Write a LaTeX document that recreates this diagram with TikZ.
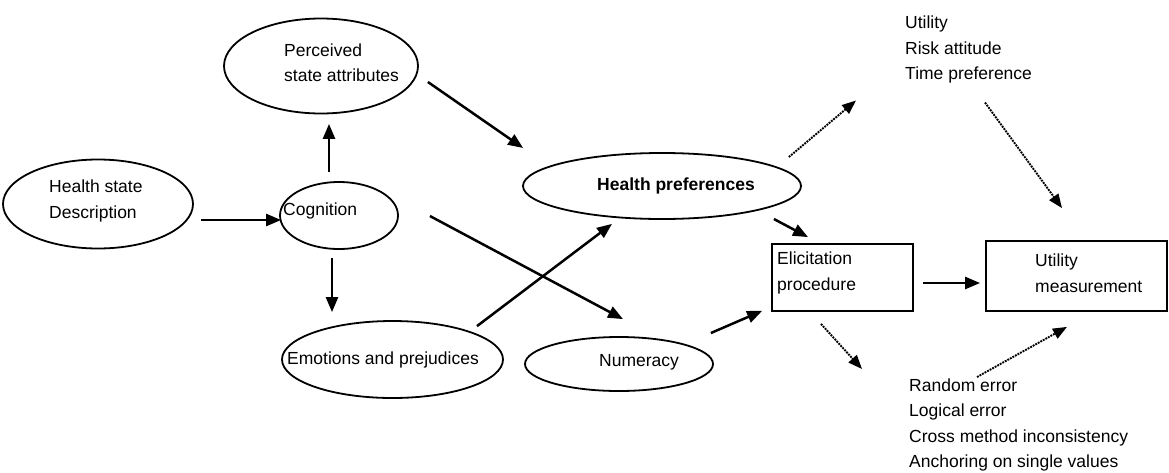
\documentclass[tikz,border=0pt]{standalone}
\usepackage{fontspec}
\setmainfont{Liberation Sans}
\usetikzlibrary{arrows.meta,shapes.geometric}

\begin{document}
\begin{tikzpicture}[
    x=1pt,y=-1pt,
    blob/.style={
      ellipse,draw,line width=1.8pt,inner sep=0pt
    },
    frame/.style={
      rectangle,draw,line width=1.8pt,inner sep=0pt
    },
    lbl/.style={
      anchor=west,align=left,inner sep=0pt,
      font=\fontsize{17.5}{25.5}\selectfont
    },
    arr/.style={
      line width=2.5pt,-{Triangle[length=15pt,width=12pt]}
    },
    dotarr/.style={
      line width=1.9pt,densely dotted,-{Triangle[length=14pt,width=11pt]}
    }]

      \useasboundingbox (0,0) rectangle (1169,472);

      % shapes
      \node[blob,minimum width=190pt,minimum height=89pt] (hsd) at (98,204) {};
      \node[blob,minimum width=194pt,minimum height=95pt] (psa) at (321,66) {};
      \node[blob,minimum width=118pt,minimum height=67pt] (cog) at (339,215.5) {};
      \node[blob,minimum width=221pt,minimum height=77pt] (emo) at (392.5,359.5) {};
      \node[blob,minimum width=188pt,minimum height=54pt] (num) at (619,364) {};
      \node[blob,minimum width=278pt,minimum height=66pt] (hp) at (662,186) {};
      \node[frame,minimum width=141pt,minimum height=67pt] (eli) at (842.5,277.5) {};
      \node[frame,minimum width=181pt,minimum height=70pt] (um) at (1076.5,276) {};

      % texts
      \node[lbl] (hsdt) at (49,201) {Health state\\Description};
      \node[lbl] (psat) at (284,62.5) {Perceived\\state attributes};
      \node[lbl] (cogt) at (283,211) {Cognition};
      \node[lbl] (emot) at (287,360) {Emotions and prejudices};
      \node[lbl,anchor=center] (numt) at (639,362) {Numeracy};
      \node[lbl,anchor=center,font=\fontsize{17.5}{25.5}\selectfont\bfseries] (hpt) at (676,186) {Health preferences};
      \node[lbl] (elit) at (777,273) {Elicitation\\procedure};
      \node[lbl] (umt) at (1035,273) {Utility\\measurement};
      \node[lbl] (utl) at (905,49.5) {Utility\\Risk attitude\\Time preference};
      \node[lbl] (err) at (909,425) {Random error\\Logical error\\Cross method inconsistency\\Anchoring on single values};

      % solid arrows
      \draw[arr] ([shift={(7,16)}]hsd.east) -- ([shift={(2,4.5)}]cog.west);
      \draw[arr] ([shift={(-10,-9)}]cog.north) -- ([shift={(8,9.5)}]psa.south);
      \draw[arr] ([shift={(-7,8)}]cog.south) -- ([shift={(-60.5,-8)}]emo.north);
      \draw[arr] ([shift={(9,16)}]psa.east) -- ([shift={(1,-38)}]hp.west);
      \draw[arr] ([shift={(31,0.5)}]cog.east) -- ([shift={(4,-17)}]num.north);
      \draw[arr] ([shift={(84.5,6)}]emo.north) -- ([shift={(-50,4)}]hp.south);
      \draw[arr] ([shift={(-3,-31)}]num.east) -- ([shift={(-9,-1)}]eli.south west);
      \draw[arr] ([shift={(-28,33)}]hp.east) -- ([shift={(-34.5,-6)}]eli.north);
      \draw[arr] ([shift={(9,5.5)}]eli.east) -- ([shift={(-5,7)}]um.west);

      % dotted arrows
      \draw[dotarr] ([shift={(-13,-29)}]hp.east) -- ([shift={(-49,51)}]utl.west);
      \draw[dotarr] ([shift={(80,53)}]utl.west) -- ([shift={(-14.5,-32)}]um.north);
      \draw[dotarr] ([shift={(-21.5,12)}]eli.south) -- ([shift={(-47,-56)}]err.west);
      \draw[dotarr] ([shift={(68,-48)}]err.west) -- ([shift={(-9.5,15)}]um.south);
  \end{tikzpicture}
\end{document}
